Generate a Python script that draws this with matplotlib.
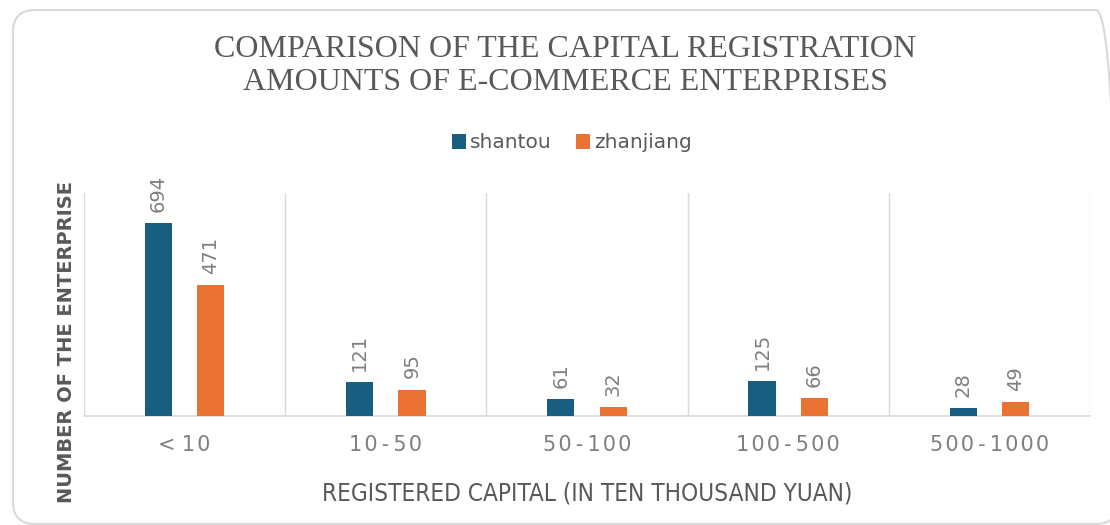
import matplotlib
matplotlib.use("Agg")
import matplotlib.pyplot as plt
import numpy as np
from matplotlib.patches import FancyBboxPatch

categories = ["< 10", "10-50", "50-100", "100-500", "500-1000"]
shantou = [694, 121, 61, 125, 28]
zhanjiang = [471, 95, 32, 66, 49]

blue = "#175E80"
orange = "#EA7232"
grey = "#595959"
light = "#7F7F7F"

W, H = 1110, 525
fig = plt.figure(figsize=(W / 100, H / 100), dpi=100)
ax = fig.add_axes([84 / W, 1 - 416 / H, (1090 - 84) / W, (416 - 193) / H])

# rounded chart border
border = FancyBboxPatch((13 / W, 1 - 524 / H), (1118 - 13) / W, (524 - 10) / H,
                        transform=fig.transFigure,
                        boxstyle="round,pad=0,rounding_size=%f" % (22 / W), fc="none",
                        ec="#D9D9D9", lw=1.5, mutation_aspect=W / H)
fig.patches.append(border)

x = np.arange(len(categories))
w = 0.135
off = 0.13
b1 = ax.bar(x - off, shantou, w, color=blue, label="shantou", zorder=3)
b2 = ax.bar(x + off, zhanjiang, w, color=orange, label="zhanjiang", zorder=3)

for bars in (b1, b2):
    for b in bars:
        ax.annotate(str(int(b.get_height())), (b.get_x() + b.get_width() / 2, b.get_height()),
                    xytext=(0, 8), textcoords="offset points", rotation=90,
                    ha="center", va="bottom", color=light, fontsize=14)


def spaced(s):
    # spread the characters a little like the original tick labels
    s = s.replace(" ", "")
    s = "\u200a".join(s)
    return s.replace("\u200a-\u200a", "\u2009-\u2009").replace("<", "<\u2009")


ax.set_xlim(-0.5, len(categories) - 0.5)
ax.set_ylim(0, 802)
ax.set_yticks([])
ax.set_xticks(x)
ax.set_xticklabels([spaced(c) for c in categories], color=light, fontsize=15)
ax.set_xticks(np.arange(len(categories) + 1) - 0.5, minor=True)
ax.tick_params(axis="x", which="major", length=0, pad=14)
ax.tick_params(axis="x", which="minor", length=0)
ax.grid(axis="x", which="minor", color="#D9D9D9", lw=1, zorder=0)
for s in ["top", "left", "right"]:
    ax.spines[s].set_visible(False)
ax.spines["bottom"].set_color("#D9D9D9")
ax.spines["bottom"].set_linewidth(1.2)

ax.set_xlabel("REGISTERED CAPITAL (IN TEN THOUSAND YUAN)", color=grey, fontsize=17.5,
              fontstretch="condensed", labelpad=19)
ax.set_ylabel("NUMBER OF THE ENTERPRISE", color=grey, fontsize=14, fontweight="bold")
ax.yaxis.set_label_coords(-0.008, 0.33)

fig.text(0.509, 1 - 66 / H, "COMPARISON OF THE CAPITAL REGISTRATION\nAMOUNTS OF E-COMMERCE ENTERPRISES",
         ha="center", va="center", family="Liberation Serif", fontsize=23, color=grey,
         linespacing=1.2)

fig.legend(handles=[b1, b2], loc="center", bbox_to_anchor=(0.515, 1 - 143 / H), ncol=2,
           frameon=False, fontsize=14.5, handlelength=0.7, handleheight=0.7,
           handletextpad=0.2, columnspacing=1.2, labelcolor=grey)

fig.savefig("out.png", dpi=100)
